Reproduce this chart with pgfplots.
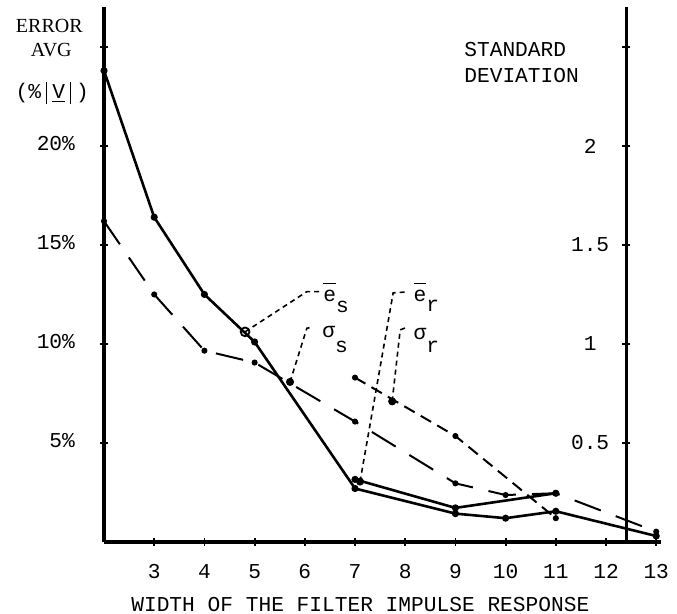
\documentclass[border=0pt]{standalone}
\usepackage{pgfplots}
\pgfplotsset{compat=1.18}
\usepackage{fontspec}
\setmainfont{Liberation Mono}
\newfontfamily\serifx{Liberation Serif}
\newcommand\ebar{\makebox[0pt][l]{\raisebox{8.8pt}{\rule{6.2pt}{0.8pt}}}e}
\newcommand\vbar{\makebox[5.6pt]{\rule[-2.8pt]{0.7pt}{11pt}}}
\begin{document}
\begin{tikzpicture}[font=\fontsize{10.6}{12.5}\selectfont]
\begin{axis}[
  scale only axis, width=278.6pt, height=267.3pt,
  xmin=2, xmax=13.1, ymin=0, ymax=27,
  axis lines=left, axis line style={line width=1.6pt, -},
  xtick={3,4,5,6,7,8,9,10,11,12,13},
  xticklabels={3,4,5,6,7,8,9,10,11,12,13},
  ytick={5,10,15,20,25}, yticklabels={5\%,10\%,15\%,20\%,},
  typeset ticklabels with strut,
  tick align=center, major tick length=4pt,
  tick style={line width=0.9pt, black},
  xticklabel style={yshift=-4pt},
  yticklabel style={xshift=-9pt},
  clip=false,
  xlabel={WIDTH OF THE FILTER IMPULSE RESPONSE},
  xlabel style={at={(axis description cs:0.46,0)}, anchor=north, yshift=-24pt},
]
% e_s
\addplot[black, line width=1.3pt, mark=*, mark size=1.1pt] coordinates {(2,23.8)(3,16.4)(4,12.5)(5,10.1)(7,2.7)(9,1.43)(10,1.2)(11,1.55)(13,0.3)};
% sigma_s
\addplot[black, line width=1pt, dash pattern=on 14pt off 8pt, mark=*, mark size=1pt, mark options={solid}] coordinates {(2,16.2)(3,12.5)(4,9.66)(5,9.06)(7,6.08)(9,2.96)(10,2.37)(11,2.46)(13,0.52)};
% e_r
\addplot[black, line width=1.3pt, mark=*, mark size=1.1pt] coordinates {(7,3.16)(9,1.72)(11,2.46)};
% sigma_r
\addplot[black, line width=1pt, dash pattern=on 6pt off 3.5pt, mark=*, mark size=1pt, mark options={solid}] coordinates {(7,8.3)(9,5.35)(11,1.2)};
% pointers
\addplot[black, line width=0.8pt, dash pattern=on 2.5pt off 2pt] coordinates {(4.81,10.61)(6.04,12.64)(6.30,12.64)};
\addplot[black, line width=0.8pt, dash pattern=on 2.5pt off 2pt] coordinates {(5.705,8.08)(6.04,10.79)(6.14,10.84)};
\addplot[black, line width=0.8pt, dash pattern=on 2.5pt off 2pt] coordinates {(7.1,3.05)(7.76,12.58)(8.06,12.63)};
\addplot[black, line width=0.8pt, dash pattern=on 2.5pt off 2pt] coordinates {(7.74,7.1)(7.90,10.71)(8.03,10.84)};
\addplot[black, only marks, mark=o, mark size=2.2pt, line width=0.9pt] coordinates {(4.81,10.61)};
\addplot[black, only marks, mark=*, mark size=1.8pt] coordinates {(5.705,8.08)(7.1,3.05)(7.74,7.1)};
% labels
\node[anchor=base west, inner sep=0] at (axis cs:6.36,12.12) {\ebar\raisebox{-5.5pt}{s}};
\node[anchor=base west, inner sep=0] at (axis cs:6.34,10.3) {σ\raisebox{-7.5pt}{s}};
\node[anchor=base west, inner sep=0] at (axis cs:8.16,12.12) {\ebar\raisebox{-5pt}{r}};
\node[anchor=base west, inner sep=0] at (axis cs:8.16,10.2) {σ\raisebox{-6.5pt}{r}};
\node[anchor=base west, inner sep=0] at (axis cs:9.17,24.5) {STANDARD};
\node[anchor=base west, inner sep=0] at (axis cs:9.17,23.2) {DEVIATION};
\node[anchor=base, inner sep=0, font=\serifx\fontsize{10}{12}\selectfont] at (axis cs:0.91,25.75) {ERROR};
\node[anchor=base, inner sep=0, font=\serifx\fontsize{10}{12}\selectfont] at (axis cs:0.95,24.5) {AVG};
\node[anchor=base, inner sep=0] at (axis cs:0.97,22.4) {(\%\vbar\underline{V}\vbar)};
\coordinate (bbsw) at (axis cs:-0.072,-3.636);
\coordinate (bbne) at (axis cs:13.414,27.37);
\end{axis}
\begin{axis}[
  scale only axis, width=261.04pt, height=267.3pt,
  xmin=2, xmax=12.4, ymin=0, ymax=27,
  axis x line=none, axis y line=right, axis line style={line width=1.6pt, -},
  ytick={5,10,15,20,25}, yticklabels={0.5,1,1.5,2,},
  tick align=center, major tick length=4pt,
  tick style={line width=0.9pt, black},
  yticklabel style={anchor=center, xshift=-20pt},
]
\end{axis}
\pgfresetboundingbox
\path[use as bounding box] (bbsw) rectangle (bbne);
\end{tikzpicture}
\end{document}
